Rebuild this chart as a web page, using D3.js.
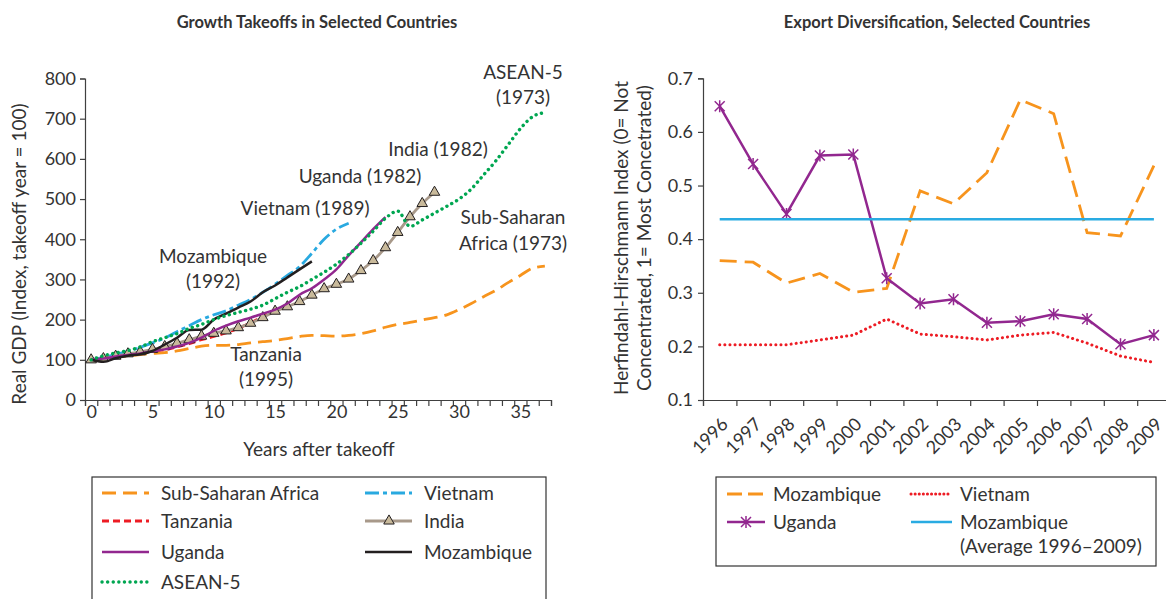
<!DOCTYPE html>
<html lang="en">
<meta charset="utf-8">
<title>Growth takeoffs and export diversification</title>
<head>
<style>
  body { margin: 0; background: #fff; }
  text { font-family: Lato, "Open Sans", sans-serif; fill: #333; }
</style>
</head>
<body>
  <script src="https://d3js.org/d3.v7.min.js"></script>
  <div id="chart"></div>
  <script>

    // ---- left panel: real GDP index after takeoff (year 0 = 100) ----
    var ssa = [100, 103, 106, 110, 113, 116, 118, 122, 128, 134, 136, 136, 138, 142, 145, 148, 153, 158, 161, 160,
      159, 161, 165, 172, 181, 188, 193, 199, 205, 212, 225, 240, 257, 273, 292, 310, 328, 333];
    var vietnam = [100, 106, 113, 121, 131, 142, 154, 170, 185, 200, 212, 222, 236, 250, 268, 288, 310, 332, 365, 400, 425, 440];
    var tanzania = [100, 104, 108, 112, 117, 122, 125, 132, 140, 150, 158, 167, 178, 192, 208, 222];
    var india = [100, 103, 109, 115, 120, 126, 133, 141, 150, 159, 166, 172, 180, 191, 205, 221, 232, 245, 261, 277,
      288, 301, 322, 347, 379, 417, 456, 489, 517];
    var uganda = [100, 103, 108, 112, 116, 121, 126, 133, 142, 155, 172, 185, 196, 205, 215, 225, 240, 262, 278, 300,
      325, 360, 392, 425, 455];
    var mozambique = [100, 95, 104, 110, 114, 122, 138, 155, 174, 175, 200, 215, 230, 245, 268, 285, 305, 325, 345];
    var asean = [100, 110, 117, 123, 132, 145, 155, 165, 178, 188, 200, 210, 218, 226, 236, 252, 268, 282, 300, 318,
      338, 362, 390, 420, 452, 470, 432, 448, 465, 482, 500, 525, 560, 595, 635, 675, 705, 715];
    var gdpTicks = [0, 100, 200, 300, 400, 500, 600, 700, 800];
    var yearTicks = [0, 5, 10, 15, 20, 25, 30, 35];

    // ---- right panel: Herfindahl-Hirschmann index ----
    var years = [1996, 1997, 1998, 1999, 2000, 2001, 2002, 2003, 2004, 2005, 2006, 2007, 2008, 2009];
    var mozExport = [0.360, 0.357, 0.318, 0.336, 0.301, 0.308, 0.490, 0.466, 0.524, 0.660, 0.634, 0.412, 0.406, 0.537];
    var ugaExport = [0.648, 0.540, 0.447, 0.556, 0.558, 0.327, 0.280, 0.288, 0.244, 0.247, 0.260, 0.251, 0.204, 0.221];
    var vnmExport = [0.203, 0.203, 0.203, 0.212, 0.221, 0.251, 0.223, 0.218, 0.212, 0.221, 0.226, 0.206, 0.182, 0.170];
    var mozAverage = [0.437, 0.437, 0.437, 0.437, 0.437, 0.437, 0.437, 0.437, 0.437, 0.437, 0.437, 0.437, 0.437, 0.437];
    var hhiTicks = [0.1, 0.2, 0.3, 0.4, 0.5, 0.6, 0.7];

    var axisColor = "#404040";
    var textSize = "19px";
    var tickSize = "18px";

    var svg = d3.select("#chart")
      .append("svg")
      .attr("width", 1166)
      .attr("height", 599);

    // ================= left chart =================
    var x = d3.scaleLinear().domain([-0.5, 37.5]).range([85, 551]);
    var y = d3.scaleLinear().domain([0, 800]).range([400, 78.5]);

    svg.append("text")
      .attr("x", 317).attr("y", 28)
      .attr("text-anchor", "middle")
      .style("font-size", "16.5px").style("font-weight", "bold")
      .text("Growth Takeoffs in Selected Countries");

    var yAx = svg.append("g")
      .attr("transform", "translate(85,0)")
      .call(d3.axisLeft(y).tickValues(gdpTicks).tickSizeOuter(0).tickSize(5).tickPadding(4));

    // tick marks between years (category boundaries)
    var xAx = svg.append("g")
      .attr("transform", "translate(0,400)")
      .call(d3.axisBottom(x).tickValues(d3.range(-0.5, 38, 1)).tickFormat("").tickSizeOuter(0).tickSize(6));
    var xLab = svg.append("g")
      .attr("transform", "translate(0,400)")
      .call(d3.axisBottom(x).tickValues(yearTicks).tickSize(0).tickPadding(5));
    xLab.select(".domain").remove();

    [yAx, xAx, xLab].forEach(function (g) {
      g.selectAll("path, line").attr("stroke", axisColor).attr("stroke-width", 1.2);
      g.selectAll("text").style("font-size", tickSize).attr("fill", "#333").style("font-family", "Lato, sans-serif");
    });

    svg.append("text")
      .attr("transform", "translate(26,254) rotate(-90)")
      .attr("text-anchor", "middle")
      .style("font-size", textSize)
      .text("Real GDP (Index, takeoff year = 100)");

    svg.append("text")
      .attr("x", 319).attr("y", 456)
      .attr("text-anchor", "middle")
      .style("font-size", textSize)
      .text("Years after takeoff");

    var line = d3.line()
      .curve(d3.curveMonotoneX)
      .x(function (d, i) { return x(i); })
      .y(function (d) { return y(d); });

    var leftSeries = [
      { name: "Sub-Saharan Africa", values: ssa, color: "#f7941d", dash: "14,7", width: 2.8, cap: "butt" },
      { name: "Vietnam", values: vietnam, color: "#29a9e0", dash: "14,4,4,4", width: 2.8, cap: "butt" },
      { name: "Tanzania", values: tanzania, color: "#ed1c24", dash: "7,4", width: 2.8, cap: "butt" },
      { name: "India", values: india, color: "#a8998a", dash: null, width: 2.8, cap: "butt" },
      { name: "Uganda", values: uganda, color: "#92278f", dash: null, width: 2.5, cap: "butt" },
      { name: "Mozambique", values: mozambique, color: "#231f20", dash: null, width: 2.5, cap: "butt" },
      { name: "ASEAN-5", values: asean, color: "#00a651", dash: "0.1,5.5", width: 3.4, cap: "round" }
    ];

    leftSeries.forEach(function (s) {
      svg.append("path")
        .datum(s.values)
        .attr("fill", "none")
        .attr("stroke", s.color)
        .attr("stroke-width", s.width)
        .attr("stroke-linecap", s.cap)
        .attr("stroke-dasharray", s.dash)
        .attr("d", line);
      if (s.name == "India") {
        svg.selectAll(".tri")
          .data(s.values)
          .enter()
          .append("path")
          .attr("transform", function (d, i) { return "translate(" + x(i) + "," + y(d) + ")"; })
          .attr("d", d3.symbol(d3.symbolTriangle).size(48))
          .attr("fill", "#c9ba9b")
          .attr("stroke", "#231f20")
          .attr("stroke-width", 1);
      }
    });

    // series labels
    var notes = [
      ["ASEAN-5", 523, 79], ["(1973)", 523, 104],
      ["India (1982)", 438, 156],
      ["Uganda (1982)", 360, 183],
      ["Vietnam (1989)", 305, 215],
      ["Mozambique", 213, 263], ["(1992)", 213, 288],
      ["Sub-Saharan", 513, 224], ["Africa (1973)", 513, 250],
      ["Tanzania", 266, 361], ["(1995)", 266, 386]
    ];
    svg.selectAll(".note")
      .data(notes)
      .enter()
      .append("text")
      .attr("x", function (d) { return d[1]; })
      .attr("y", function (d) { return d[2]; })
      .attr("text-anchor", "middle")
      .style("font-size", textSize)
      .text(function (d) { return d[0]; });

    // left legend
    svg.append("rect")
      .attr("x", 92).attr("y", 477).attr("width", 454).attr("height", 140)
      .attr("fill", "#fff").attr("stroke", "#333").attr("stroke-width", 1.2);

    var legendPos = [[102, 493], [365, 493], [102, 521], [365, 521], [102, 552], [365, 552], [102, 582]];
    leftSeries.forEach(function (s, i) {
      var p = legendPos[i];
      svg.append("line")
        .attr("x1", p[0]).attr("x2", p[0] + 47).attr("y1", p[1]).attr("y2", p[1])
        .attr("stroke", s.color).attr("stroke-width", s.width)
        .attr("stroke-linecap", s.cap).attr("stroke-dasharray", s.dash);
      if (s.name == "India") {
        svg.append("path")
          .attr("transform", "translate(" + (p[0] + 24) + "," + p[1] + ")")
          .attr("d", d3.symbol(d3.symbolTriangle).size(48))
          .attr("fill", "#c9ba9b").attr("stroke", "#231f20").attr("stroke-width", 1);
      }
      svg.append("text")
        .attr("x", p[0] + 59).attr("y", p[1])
        .attr("dy", "0.35em")
        .style("font-size", textSize)
        .text(s.name);
    });

    // ================= right chart =================
    var xb = d3.scaleBand().domain(years).range([703, 1170.6]);
    var xi = d3.scaleLinear().domain([0, years.length]).range([703, 1170.6]);
    var yr = d3.scaleLinear().domain([0.1, 0.7]).range([400, 78.3]);
    function cx(yy) { return xb(yy) + xb.bandwidth() / 2; }

    svg.append("text")
      .attr("x", 937).attr("y", 28)
      .attr("text-anchor", "middle")
      .style("font-size", "16.5px").style("font-weight", "bold")
      .text("Export Diversification, Selected Countries");

    var yAxR = svg.append("g")
      .attr("transform", "translate(703,0)")
      .call(d3.axisLeft(yr).tickValues(hhiTicks).tickFormat(d3.format(".1f")).tickSizeOuter(0).tickSize(5).tickPadding(5));
    var xAxR = svg.append("g")
      .attr("transform", "translate(0,400)")
      .call(d3.axisBottom(xi).tickValues(d3.range(0, years.length + 1)).tickFormat("").tickSizeOuter(0).tickSize(6));
    [yAxR, xAxR].forEach(function (g) {
      g.selectAll("path, line").attr("stroke", axisColor).attr("stroke-width", 1.2);
      g.selectAll("text").style("font-size", tickSize).attr("fill", "#333").style("font-family", "Lato, sans-serif");
    });

    svg.selectAll(".yearLab")
      .data(years)
      .enter()
      .append("text")
      .attr("transform", function (d) { return "translate(" + (cx(d) + 5) + ",421) rotate(-45)"; })
      .attr("text-anchor", "end")
      .attr("dy", "0.35em")
      .style("font-size", "18px")
      .text(function (d) { return d; });

    svg.append("text")
      .attr("transform", "translate(628,238) rotate(-90)")
      .attr("text-anchor", "middle")
      .style("font-size", textSize)
      .text("Herfindahl-Hirschmann Index (0= Not");
    svg.append("text")
      .attr("transform", "translate(651,238) rotate(-90)")
      .attr("text-anchor", "middle")
      .style("font-size", textSize)
      .text("Concentrated, 1= Most Concetrated)");

    var lineR = d3.line()
      .x(function (d, i) { return cx(years[i]); })
      .y(function (d) { return yr(d); });

    var rightSeries = [
      { name: "Mozambique", values: mozExport, color: "#f7941d", dash: "17,8", width: 2.8, cap: "butt" },
      { name: "Vietnam", values: vnmExport, color: "#ed1c24", dash: "0.1,5", width: 3, cap: "round" },
      { name: "Uganda", values: ugaExport, color: "#92278f", dash: null, width: 2.5, cap: "butt" },
      { name: "Mozambique\n(Average 1996\u20132009)", values: mozAverage, color: "#29abe2", dash: null, width: 2.6, cap: "butt" }
    ];

    var star = "M-5,-5L5,5M-5,5L5,-5M0,-6L0,6";

    rightSeries.forEach(function (s) {
      svg.append("path")
        .datum(s.values)
        .attr("fill", "none")
        .attr("stroke", s.color)
        .attr("stroke-width", s.width)
        .attr("stroke-linecap", s.cap)
        .attr("stroke-dasharray", s.dash)
        .attr("d", lineR);
      if (s.name == "Uganda") {
        svg.selectAll(".star")
          .data(s.values)
          .enter()
          .append("path")
          .attr("transform", function (d, i) { return "translate(" + cx(years[i]) + "," + yr(d) + ")"; })
          .attr("d", star)
          .attr("fill", "none")
          .attr("stroke", s.color)
          .attr("stroke-width", 1.5);
      }
    });

    // right legend
    svg.append("rect")
      .attr("x", 716).attr("y", 477).attr("width", 440).attr("height", 89)
      .attr("fill", "#fff").attr("stroke", "#333").attr("stroke-width", 1.2);

    var legendPosR = [[727, 494], [911, 494], [727, 522], [911, 522]];
    rightSeries.forEach(function (s, i) {
      var p = legendPosR[i];
      var len = p[0] < 800 ? 38 : 41;
      svg.append("line")
        .attr("x1", p[0]).attr("x2", p[0] + len).attr("y1", p[1]).attr("y2", p[1])
        .attr("stroke", s.color).attr("stroke-width", s.width)
        .attr("stroke-linecap", s.cap)
        .attr("stroke-dasharray", s.name == "Mozambique" ? "15,6" : (s.dash ? "0.1,4" : null));
      if (s.name == "Uganda") {
        svg.append("path")
          .attr("transform", "translate(" + (p[0] + 19) + "," + p[1] + ")")
          .attr("d", star).attr("fill", "none").attr("stroke", s.color).attr("stroke-width", 1.5);
      }
      var t = svg.append("text")
        .attr("x", p[0] + len + 8).attr("y", p[1])
        .style("font-size", textSize);
      s.name.split("\n").forEach(function (part, k) {
        t.append("tspan").attr("x", p[0] + len + 8).attr("dy", k == 0 ? "0.35em" : "1.3em").text(part);
      });
    });

  </script>
</body>
</html>
